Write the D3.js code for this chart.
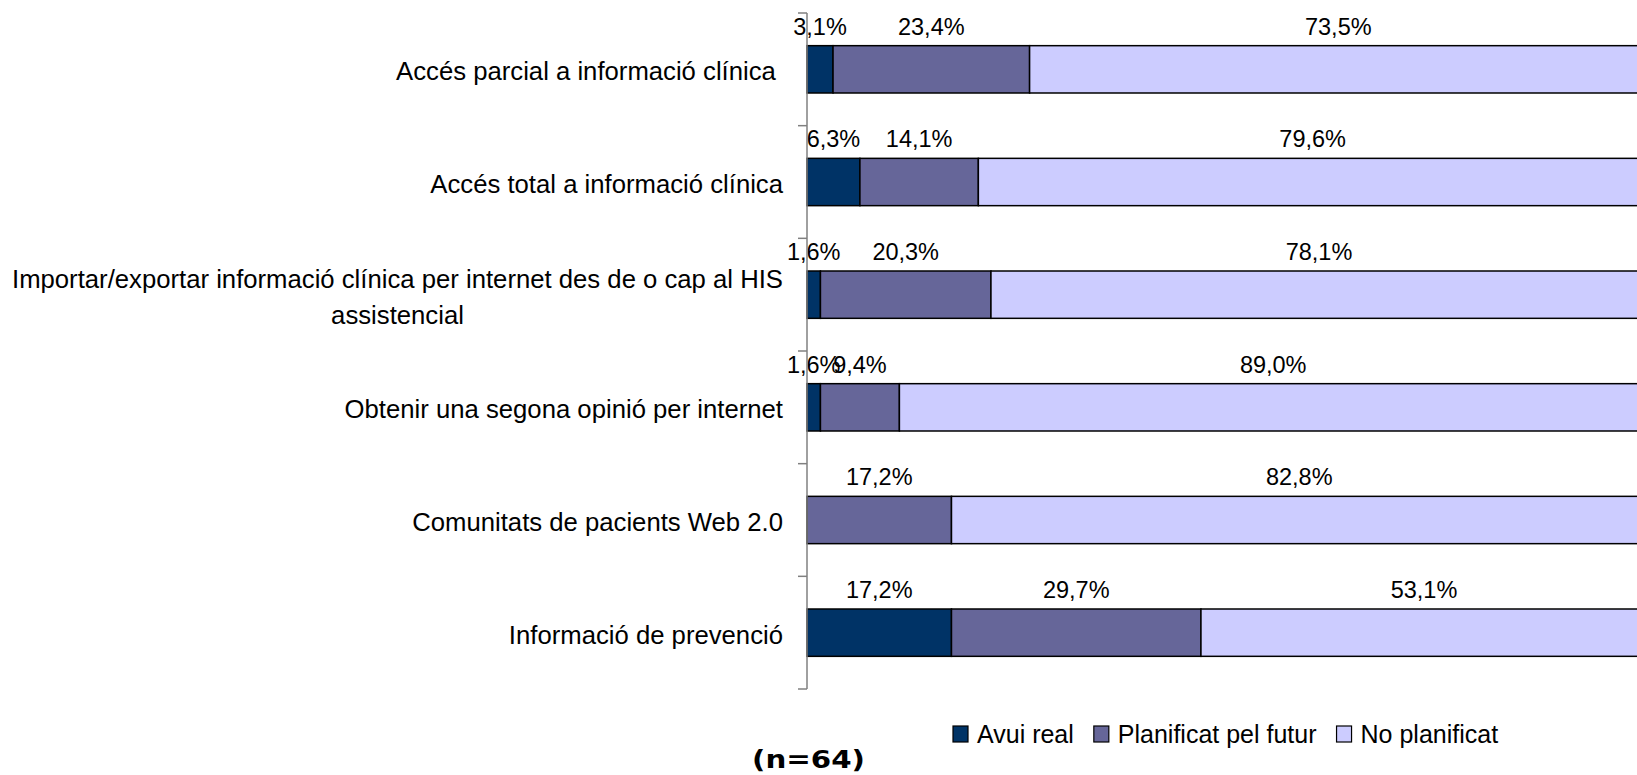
<!DOCTYPE html>
<html>
<head>
<meta charset="utf-8">
<script src="https://cdn.jsdelivr.net/npm/d3@7"></script>
<style>
  html, body { margin: 0; padding: 0; background: #fff; }
  svg { display: block; }
  text { font-family: "Liberation Sans", Arial, sans-serif; fill: #000; white-space: pre; }
</style>
</head>
<body>
<div id="chart"></div>
<script>
// categories, top to bottom
const categories = [
  ["Accés parcial a informació clínica "],
  ["Accés total a informació clínica"],
  ["Importar/exportar informació clínica per internet des de o cap al HIS", "assistencial"],
  ["Obtenir una segona opinió per internet"],
  ["Comunitats de pacients Web 2.0"],
  ["Informació de prevenció"]
];
const seriesNames = ["Avui real", "Planificat pel futur", "No planificat"];
const avuiReal = [3.1, 6.3, 1.6, 1.6, 0, 17.2];
const planificat = [23.4, 14.1, 20.3, 9.4, 17.2, 29.7];
const noPlanificat = [73.5, 79.6, 78.1, 89.0, 82.8, 53.1];
const colors = ["#003366", "#666699", "#ccccff"];
const note = "(n=64)";

const W = 1637, H = 775;
const margin = { top: 13, left: 807, bottom: 86 };
const plotBottom = H - margin.bottom;

const svg = d3.select("#chart").append("svg")
  .attr("width", W).attr("height", H);

const x = d3.scaleLinear().domain([0, 100]).range([margin.left, margin.left + 840]);
const y = d3.scaleBand().domain(d3.range(categories.length))
  .range([margin.top, plotBottom]).paddingInner(0.58).paddingOuter(0.29);
const band = d3.scaleBand().domain(d3.range(categories.length))
  .range([margin.top, plotBottom]);

const rows = categories.map((c, i) => {
  const vals = [avuiReal[i], planificat[i], noPlanificat[i]];
  let acc = 0;
  return vals.map((v, k) => {
    const s = { i, k, v, x0: acc, x1: acc + v };
    acc += v;
    return s;
  });
});

// bars
const barG = svg.append("g");
rows.forEach(segs => {
  barG.selectAll(null).data(segs.filter(s => s.v > 0)).enter().append("rect")
    .attr("x", s => x(s.x0))
    .attr("y", s => y(s.i))
    .attr("width", s => x(s.x1) - x(s.x0))
    .attr("height", y.bandwidth())
    .attr("fill", s => colors[s.k])
    .attr("stroke", "#000")
    .attr("stroke-width", 1.5);
});

// value labels above each segment
const labG = svg.append("g");
rows.forEach(segs => {
  labG.selectAll(null).data(segs.filter(s => s.v > 0)).enter().append("text")
    .attr("x", s => x((s.x0 + s.x1) / 2))
    .attr("y", s => y(s.i) - 11)
    .attr("text-anchor", "middle")
    .style("font-size", "23.5px")
    .text(s => s.v.toFixed(1).replace(".", ",") + "%");
});

// category axis
const axG = svg.append("g").attr("stroke", "#808080").attr("stroke-width", 1.5);
axG.append("line")
  .attr("x1", margin.left).attr("x2", margin.left)
  .attr("y1", margin.top).attr("y2", plotBottom);
const tickYs = d3.range(categories.length).map(i => band(i)).concat([plotBottom]);
axG.selectAll(null).data(tickYs).enter().append("line")
  .attr("x1", margin.left - 9).attr("x2", margin.left)
  .attr("y1", d => d).attr("y2", d => d);

// category labels (right aligned block, lines centered on each other)
const catG = svg.append("g");
categories.forEach((lines, i) => {
  const cy = y(i) + y.bandwidth() / 2;
  const lh = 36;
  const g = catG.append("g");
  const texts = lines.map((ln, j) => g.append("text")
    .attr("y", cy + (j - (lines.length - 1) / 2) * lh + 11)
    .style("font-size", "25.7px")
    .text(ln));
  const wMax = d3.max(texts, t => t.node().getComputedTextLength());
  const right = 783;
  texts.forEach(t => t.attr("x", right - wMax / 2).attr("text-anchor", "middle"));
});

// legend
const legG = svg.append("g").attr("transform", "translate(953,726)");
let lx = 0;
seriesNames.forEach((name, k) => {
  const g = legG.append("g").attr("transform", `translate(${lx},0)`);
  g.append("rect").attr("width", 15).attr("height", 16)
    .attr("fill", colors[k]).attr("stroke", "#000").attr("stroke-width", 1.2);
  const t = g.append("text").attr("x", 24).attr("y", 17)
    .style("font-size", "25px").text(name);
  lx += 24 + t.node().getComputedTextLength() + 20;
});

// sample size note
svg.append("text")
  .attr("x", 752).attr("y", 768)
  .attr("textLength", 113)
  .attr("lengthAdjust", "spacingAndGlyphs")
  .style("font-family", "'DejaVu Sans', Verdana, sans-serif")
  .style("font-weight", "bold")
  .style("font-size", "25px")
  .text(note);
</script>
</body>
</html>
